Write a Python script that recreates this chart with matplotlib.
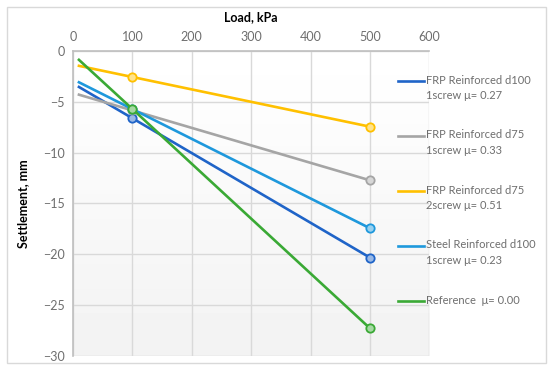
import numpy as np
import matplotlib
matplotlib.use("Agg")
import matplotlib.pyplot as plt
from matplotlib.lines import Line2D
from matplotlib.patches import Rectangle
from matplotlib.colors import to_rgb

plt.rcParams['font.family'] = ['Lato', 'DejaVu Sans']

# data (load in kPa, settlement in mm)
load = [10, 100, 500]
frp_d100_1 = [-3.54, -6.62, -20.34]
frp_d75_1 = [-4.30, -5.85, -12.73]
frp_d75_2 = [-1.46, -2.56, -7.45]
steel_d100_1 = [-3.08, -5.72, -17.45]
reference = [-0.87, -5.71, -27.30]

series = [frp_d100_1, frp_d75_1, frp_d75_2, steel_d100_1, reference]
labels = ["FRP Reinforced d100\n1screw \u03bc= 0.27",
          "FRP Reinforced d75\n1screw \u03bc= 0.33",
          "FRP Reinforced d75\n2screw \u03bc= 0.51",
          "Steel Reinforced d100\n1screw \u03bc= 0.23",
          "Reference  \u03bc= 0.00"]
colors = ['#1F64C8', '#A5A5A5', '#FFC000', '#1E98DC', '#3AA935']

W, H = 550, 369
fig = plt.figure(figsize=(5.5, 3.69), dpi=100)
ax = fig.add_axes([73 / W, 1 - 355.7 / H, (429.3 - 73) / W, (355.7 - 51) / H])

# light gradient background of plot area
grad = np.linspace(1.0, 0.95, 100).reshape(-1, 1)
ax.imshow(grad, cmap='gray', vmin=0, vmax=1, extent=[0, 1, 0, 1],
          transform=ax.transAxes, aspect='auto', zorder=0)

def tint(c, f=0.5):
    r, g, b = to_rgb(c)
    return (r + (1 - r) * f, g + (1 - g) * f, b + (1 - b) * f)

for y, c in zip(series, colors):
    ax.plot(load, y, color=c, lw=1.9, marker='o', markevery=[1, 2],
            ms=6, mfc=tint(c, 0.55), mec=c, mew=1.3, zorder=3)

ax.set_xlim(0, 600)
ax.set_ylim(-30, 0)
ax.set_xticks(range(0, 601, 100))
ax.set_yticks(range(-30, 1, 5))
ax.xaxis.tick_top()
ax.xaxis.set_label_position('top')
ax.grid(True, color='#D9D9D9', lw=1)
ax.set_axisbelow(True)
ax.tick_params(length=0, labelsize=9, colors='#6E6E6E', pad=6)
for s in ['right', 'bottom']:
    ax.spines[s].set_visible(False)
for s in ['left', 'top']:
    ax.spines[s].set_color('#BFBFBF')
    ax.spines[s].set_linewidth(1.2)
ax.set_xlabel('Load, kPa', fontsize=9, fontweight='bold', labelpad=7)
ax.set_ylabel('Settlement, mm', fontsize=9, fontweight='bold', labelpad=10)

# legend drawn by hand to match the layout
for i, (lab, c) in enumerate(zip(labels, colors)):
    yy = 1 - (81 + i * 55) / H
    fig.add_artist(Line2D([397.7 / W, 424 / W], [yy, yy], color=c, lw=1.9))
    fig.text(426 / W, yy + 6.5 / H, lab, fontsize=8, color='#6E6E6E',
             va='top', ha='left', linespacing=1.55)

fig.add_artist(Rectangle((7 / W, 1 - 363 / H), 539 / W, 356 / H,
                         transform=fig.transFigure, fill=False,
                         ec='#D9D9D9', lw=1))

fig.savefig('out.png', dpi=100)
